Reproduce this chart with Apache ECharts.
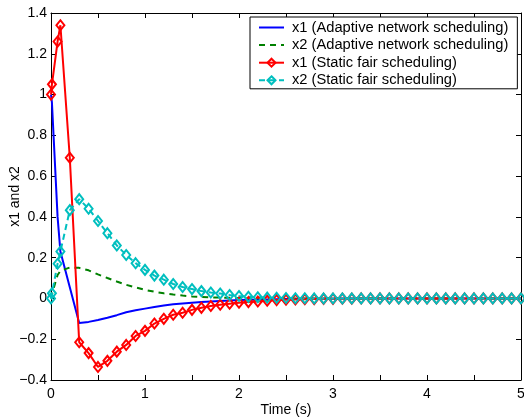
<!DOCTYPE html>
<html>
<head>
<meta charset="utf-8">
<script src="https://cdn.jsdelivr.net/npm/echarts@6/dist/echarts.min.js"></script>
<style>
  html, body { margin: 0; padding: 0; background: #fff; }
  #main { width: 524px; height: 418px; }
</style>
</head>
<body>
<div id="main"></div>
<script>
// sample times (s)
const time = [0, 0.01, 0.07, 0.1, 0.2, 0.3, 0.4, 0.5, 0.6, 0.7, 0.8, 0.9, 1.0,
  1.1, 1.2, 1.3, 1.4, 1.5, 1.6, 1.7, 1.8, 1.9, 2.0, 2.1, 2.2, 2.3, 2.4, 2.5,
  2.6, 2.7, 2.8, 2.9, 3.0, 3.1, 3.2, 3.3, 3.4, 3.5, 3.6, 3.7, 3.8, 3.9, 4.0,
  4.1, 4.2, 4.3, 4.4, 4.5, 4.6, 4.7, 4.8, 4.9, 5.0];

const x1Adaptive = [1.0, 0.96, 0.4, 0.23, 0.055, -0.12, -0.115, -0.106, -0.095, -0.082, -0.068, -0.058, -0.05,
  -0.042, -0.035, -0.029, -0.025, -0.021, -0.018, -0.015, -0.012, -0.010, -0.008, -0.007, -0.006, -0.005, -0.004, -0.003,
  -0.003, -0.002, -0.002, -0.001, -0.001, 0, 0, 0, 0, 0, 0, 0, 0, 0, 0,
  0, 0, 0, 0, 0, 0, 0, 0, 0, 0];

const x2Adaptive = [0, 0.02, 0.115, 0.135, 0.152, 0.15, 0.138, 0.118, 0.1, 0.083, 0.067, 0.054, 0.042,
  0.033, 0.025, 0.019, 0.014, 0.010, 0.007, 0.005, 0.004, 0.003, 0.002, 0.001, 0.001, 0, 0, 0,
  0, 0, 0, 0, 0, 0, 0, 0, 0, 0, 0, 0, 0, 0, 0,
  0, 0, 0, 0, 0, 0, 0, 0, 0, 0];

const x1Static = [1.0, 1.05, 1.26, 1.34, 0.69, -0.215, -0.268, -0.336, -0.306, -0.261, -0.228, -0.184, -0.159,
  -0.123, -0.1, -0.08, -0.07, -0.056, -0.046, -0.037, -0.031, -0.026, -0.021, -0.018, -0.015, -0.011, -0.008, -0.006,
  -0.005, -0.004, -0.003, -0.002, -0.002, -0.001, -0.001, 0, 0, 0, 0, 0, 0, 0, 0,
  0, 0, 0, 0, 0, 0, 0, 0, 0, 0];

const x2Static = [0, 0.025, 0.17, 0.23, 0.433, 0.487, 0.44, 0.38, 0.32, 0.26, 0.213, 0.173, 0.14,
  0.112, 0.092, 0.071, 0.056, 0.046, 0.036, 0.029, 0.024, 0.017, 0.012, 0.008, 0.006, 0.004, 0.003, 0.002,
  0.001, 0.001, 0, 0, 0, 0, 0, 0, 0, 0, 0, 0, 0, 0, 0,
  0, 0, 0, 0, 0, 0, 0, 0, 0, 0];

const seriesNames = ['x1 (Adaptive network scheduling)', 'x2 (Adaptive network scheduling)',
  'x1 (Static fair scheduling)', 'x2 (Static fair scheduling)'];

const font = 'Liberation Sans, Arial, Helvetica, sans-serif';
const pairs = vals => time.map((t, i) => [t, vals[i]]);

const yLabel = v => {
  const s = String(Math.round(v * 10) / 10);
  return s.replace('-', '\u2212');
};

const boxAxis = {
  axisLine: { show: true, onZero: false, lineStyle: { color: '#000', width: 1 } },
  axisTick: { show: true, inside: true, length: 5, lineStyle: { color: '#000' } },
  splitLine: { show: false }
};

const chart = echarts.init(document.getElementById('main'));
chart.setOption({
  backgroundColor: '#fff',
  animation: false,
  textStyle: { fontFamily: font },
  grid: { left: 51, right: 3, top: 13, bottom: 38, containLabel: false, outerBoundsMode: 'none' },
  legend: {
    orient: 'vertical',
    left: 250,
    top: 17,
    padding: [3, 9, 1, 8],
    itemWidth: 25,
    itemHeight: 10,
    itemGap: 2.6,
    borderColor: '#000',
    borderWidth: 1,
    backgroundColor: '#fff',
    textStyle: { fontSize: 14.7, color: '#000', fontFamily: font, lineHeight: 14, padding: [0, 0, 0, 3] },
    data: seriesNames
  },
  xAxis: [
    Object.assign({
      type: 'value', min: 0, max: 5, interval: 0.5,
      name: 'Time (s)', nameLocation: 'middle', nameGap: 23, nameMoveOverlap: false,
      nameTextStyle: { fontSize: 14, color: '#000', fontFamily: font },
      axisLabel: {
        fontSize: 14, color: '#000', margin: 7, fontFamily: font,
        formatter: v => (Math.abs(v - Math.round(v)) < 1e-9 ? String(Math.round(v)) : '')
      }
    }, boxAxis),
    Object.assign({
      type: 'value', min: 0, max: 5, interval: 0.5, position: 'top',
      axisLabel: { show: false }
    }, boxAxis)
  ],
  yAxis: [
    Object.assign({
      type: 'value', min: -0.4, max: 1.4, interval: 0.2,
      name: 'x1 and x2', nameLocation: 'middle', nameGap: 29, nameMoveOverlap: false,
      nameTextStyle: { fontSize: 14, color: '#000', fontFamily: font },
      axisLabel: { fontSize: 14, color: '#000', margin: 4, fontFamily: font, formatter: yLabel }
    }, boxAxis),
    Object.assign({
      type: 'value', min: -0.4, max: 1.4, interval: 0.2, position: 'right',
      axisLabel: { show: false }
    }, boxAxis)
  ],
  series: [
    {
      name: seriesNames[0], type: 'line', data: pairs(x1Adaptive),
      symbol: 'circle', showSymbol: false,
      itemStyle: { color: 'rgba(0,0,0,0)' },
      lineStyle: { color: '#0000ff', width: 2 }, clip: false
    },
    {
      name: seriesNames[1], type: 'line', data: pairs(x2Adaptive),
      symbol: 'circle', showSymbol: false,
      itemStyle: { color: 'rgba(0,0,0,0)' },
      lineStyle: { color: '#008000', width: 2, type: [6, 5] }, clip: false
    },
    {
      name: seriesNames[2], type: 'line', data: pairs(x1Static),
      symbol: 'diamond', symbolSize: [8, 10],
      itemStyle: { color: 'rgba(255,255,255,0)', borderColor: '#ff0000', borderWidth: 2 },
      lineStyle: { color: '#ff0000', width: 2 }, clip: false
    },
    {
      name: seriesNames[3], type: 'line', data: pairs(x2Static),
      symbol: 'diamond', symbolSize: [8, 10],
      itemStyle: { color: 'rgba(255,255,255,0)', borderColor: '#00bfbf', borderWidth: 2 },
      lineStyle: { color: '#00bfbf', width: 2, type: [6, 4] }, clip: false
    }
  ]
});
</script>
</body>
</html>
